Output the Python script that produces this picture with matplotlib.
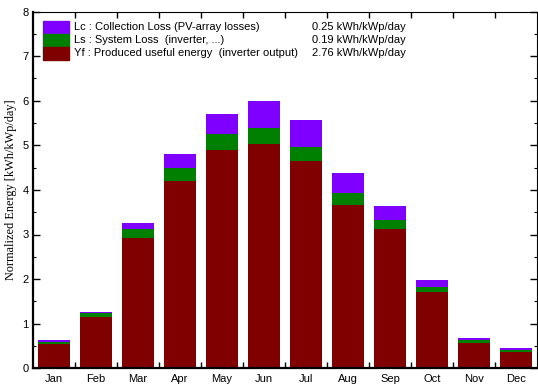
import matplotlib
matplotlib.use("Agg")
import matplotlib.pyplot as plt
import numpy as np
from matplotlib.ticker import MultipleLocator, FixedLocator

months = ["Jan", "Feb", "Mar", "Apr", "May", "Jun", "Jul", "Aug", "Sep", "Oct", "Nov", "Dec"]
yf = [0.55, 1.14, 2.92, 4.21, 4.90, 5.04, 4.65, 3.66, 3.12, 1.71, 0.57, 0.37]
ls = [0.04, 0.09, 0.20, 0.29, 0.35, 0.35, 0.31, 0.26, 0.21, 0.11, 0.06, 0.04]
lc = [0.05, 0.04, 0.14, 0.30, 0.45, 0.60, 0.61, 0.45, 0.32, 0.16, 0.06, 0.04]

legend_labels = ["Lc : Collection Loss (PV-array losses)",
                 "Ls : System Loss  (inverter, ...)",
                 "Yf : Produced useful energy  (inverter output)"]
legend_values = ["0.25 kWh/kWp/day", "0.19 kWh/kWp/day", "2.76 kWh/kWp/day"]

c_lc, c_ls, c_yf = "#8000FF", "#008000", "#800000"

plt.rcParams['font.family'] = ['Liberation Sans', 'DejaVu Sans']

fig = plt.figure(figsize=(5.38, 3.85), dpi=100)
ax = fig.add_axes([33/538, (385-368.3)/385, (537-33)/538, (368.3-11.5)/385])

x = np.arange(len(months))
w = 0.75
yf_a, ls_a, lc_a = np.array(yf), np.array(ls), np.array(lc)
ax.bar(x, yf_a, width=w, color=c_yf, edgecolor="none")
ax.bar(x, ls_a, width=w, bottom=yf_a, color=c_ls, edgecolor="none")
ax.bar(x, lc_a, width=w, bottom=yf_a+ls_a, color=c_lc, edgecolor="none")

ax.set_xlim(-0.5, 11.5)
ax.set_ylim(0, 8)
ax.set_xticks(x)
ax.set_xticklabels(months, fontsize=8)
ax.xaxis.set_minor_locator(FixedLocator(np.arange(0.5, 11.5, 1.0)))
ax.tick_params(axis='x', which='major', length=0, pad=4)
ax.tick_params(axis='x', which='minor', direction='in', length=4, width=1, top=True, bottom=True)
ax.yaxis.set_major_locator(MultipleLocator(1))
ax.yaxis.set_minor_locator(MultipleLocator(0.5))
ax.tick_params(axis='y', which='major', direction='in', length=5, width=1, left=True, right=True, labelsize=8, pad=3)
ax.tick_params(axis='y', which='minor', direction='in', length=2.5, width=0.8, left=True, right=True)

for s in ['left', 'bottom']:
    ax.spines[s].set_linewidth(1.6)
for s in ['top', 'right']:
    ax.spines[s].set_linewidth(0.8)

ax.set_ylabel("Normalized Energy [kWh/kWp/day]", family=['Liberation Serif', 'DejaVu Serif'], fontsize=8.8, labelpad=4)

colors = [c_lc, c_ls, c_yf]
for i, (lab, val, col) in enumerate(zip(legend_labels, legend_values, colors)):
    y0 = 20.7 + i*13.1
    fy = 1 - (y0 + 13.0 - 11.5) / (368.3 - 11.5)
    fh = 13.0 / (368.3 - 11.5)
    fx = (43 - 33) / 504
    fw = (69 - 43) / 504
    ax.add_patch(plt.Rectangle((fx, fy), fw, fh, transform=ax.transAxes, color=col, clip_on=False))
    ty = fy + fh/2
    ax.text((74-33)/504, ty, lab, transform=ax.transAxes, fontsize=8, va='center', ha='left')
    ax.text((312-33)/504, ty, val, transform=ax.transAxes, fontsize=8, va='center', ha='left')

fig.savefig("out.png", dpi=100)
